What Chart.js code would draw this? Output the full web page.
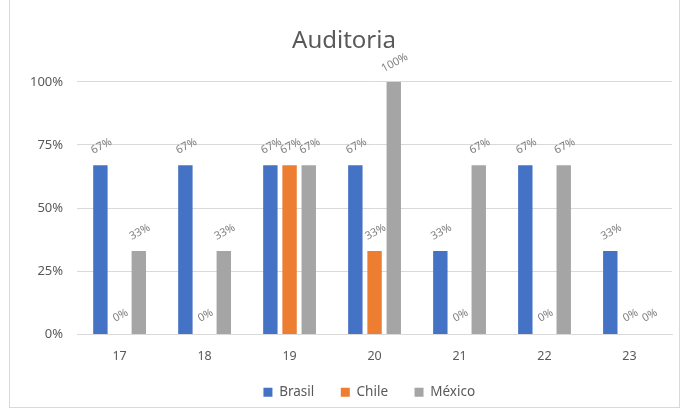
<!DOCTYPE html>
<html>
<head>
<meta charset="utf-8">
<script src="https://cdn.jsdelivr.net/npm/chart.js@4.4.0/dist/chart.umd.min.js"></script>
<style>
  body { margin: 0; background: #fff; }
  #box { position: absolute; left: 9px; top: -1px; width: 671px; height: 409px; border: 1px solid #d9d9d9; box-sizing: border-box; }
  #wrap { position: absolute; left: 0; top: 0; width: 681px; height: 412px; }
</style>
</head>
<body>
<div id="box"></div>
<div id="wrap"><canvas id="chart" width="681" height="412"></canvas></div>
<script>
const categorias = ['17', '18', '19', '20', '21', '22', '23'];
const brasil = [67, 67, 67, 67, 33, 67, 33];
const chile = [0, 0, 67, 33, 0, 0, 0];
const mexico = [33, 33, 67, 100, 67, 67, 0];

// etiquetas inclinadas encima de cada barra
const etiquetas = {
  id: 'etiquetas',
  afterDatasetsDraw(chart) {
    const ctx = chart.ctx;
    ctx.save();
    ctx.font = '11px "Noto Sans"';
    ctx.fillStyle = '#7f7f7f';
    ctx.textAlign = 'center';
    ctx.textBaseline = 'middle';
    chart.data.datasets.forEach((ds, i) => {
      chart.getDatasetMeta(i).data.forEach((bar, j) => {
        ctx.save();
        ctx.translate(bar.x + 1, bar.y - 19);
        ctx.rotate(-28 * Math.PI / 180);
        ctx.fillText(ds.data[j] + '%', 0, 0);
        ctx.restore();
      });
    });
    ctx.restore();
  }
};

new Chart(document.getElementById('chart'), {
  type: 'bar',
  data: {
    labels: categorias,
    datasets: [
      { label: 'Brasil', data: brasil, backgroundColor: '#4472c4' },
      { label: 'Chile', data: chile, backgroundColor: '#ed7d31' },
      { label: 'México', data: mexico, backgroundColor: '#a5a5a5' }
    ]
  },
  options: {
    responsive: false,
    animation: false,
    layout: { padding: { left: 16, right: 9, top: 8, bottom: 3 } },
    datasets: { bar: { categoryPercentage: 0.678, barPercentage: 0.75 } },
    plugins: {
      title: {
        display: true,
        text: 'Auditoria',
        color: '#595959',
        font: { family: '"Noto Sans"', size: 24, weight: 'normal' },
        padding: { top: 19, bottom: 26 }
      },
      legend: {
        position: 'bottom',
        fullSize: false,
        labels: {
          color: '#595959',
          font: { family: '"Noto Sans"', size: 13.5 },
          boxWidth: 9,
          boxHeight: 9,
          padding: 16,
          generateLabels: chart => Chart.defaults.plugins.legend.labels.generateLabels(chart)
            .map(l => Object.assign(l, { text: l.text + '   ' }))
        }
      },
      tooltip: { enabled: false }
    },
    scales: {
      x: {
        grid: { display: false },
        border: { color: '#d9d9d9' },
        ticks: { color: '#595959', font: { family: '"Noto Sans"', size: 12.5 }, padding: 6 }
      },
      y: {
        min: 0,
        max: 100,
        grid: { color: '#d9d9d9', drawTicks: false },
        border: { display: false },
        ticks: {
          stepSize: 25,
          color: '#595959',
          font: { family: '"Noto Sans"', size: 13 },
          padding: 14,
          callback: v => v + '%'
        }
      }
    }
  },
  plugins: [etiquetas]
});
</script>
</body>
</html>
